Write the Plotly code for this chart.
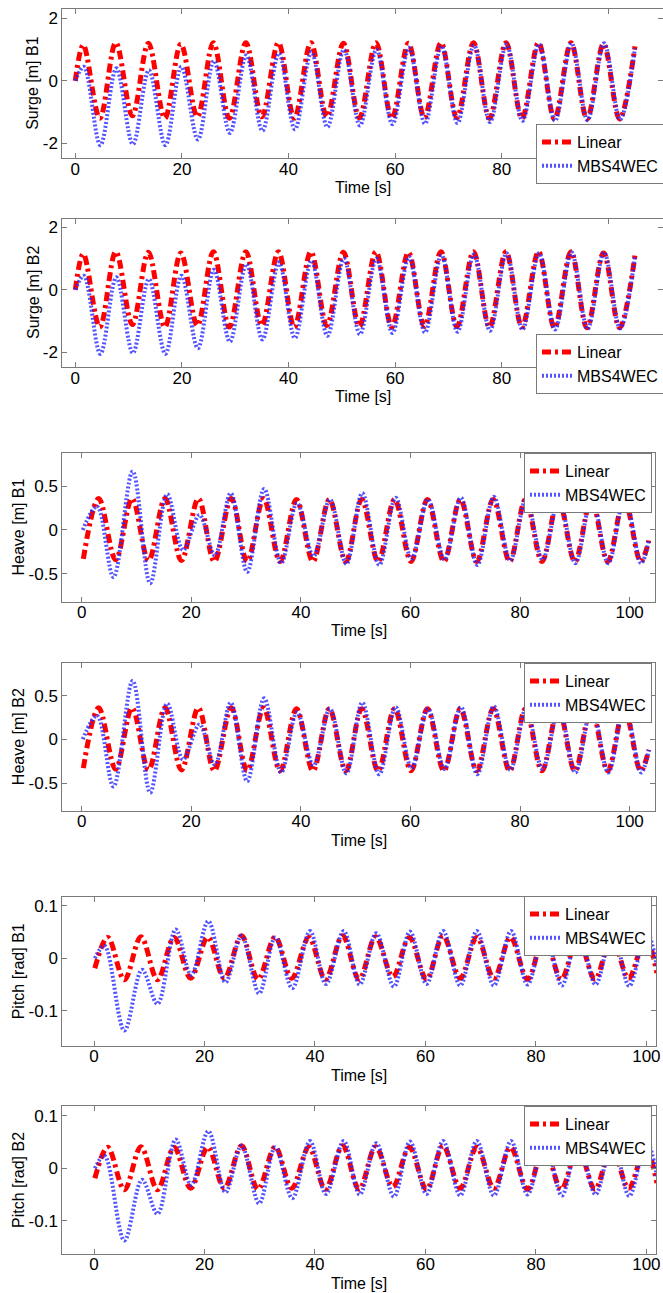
import plotly.graph_objects as go

# ---------------- data (extrema + start/end) ----------------
# Surge, Linear (same for B1 and B2)
SURGE_LIN_T = [0, 1.5, 4.6, 7.6, 10.7, 13.7, 16.8, 19.8, 22.9, 25.9, 28.9, 32.0, 35.0, 38.1, 41.1,
               44.2, 47.2, 50.3, 53.3, 56.4, 59.4, 62.5, 65.5, 68.6, 71.6, 74.7, 77.7, 80.8, 83.8,
               86.9, 89.9, 93.0, 96.0, 99.1, 102.1, 105.0]
SURGE_LIN_Y = [0, 1.15, -1.2, 1.22, -1.12, 1.2, -1.2, 1.18, -1.15, 1.22, -1.2, 1.22, -1.15, 1.22, -1.2,
               1.22, -1.15, 1.2, -1.18, 1.22, -1.2, 1.2, -1.18, 1.22, -1.18, 1.22, -1.2, 1.22, -1.2,
               1.22, -1.22, 1.22, -1.22, 1.18, -1.22, 1.1]
# Surge, MBS4WEC
SURGE_MBS_T = [0, 1.6, 4.7, 7.7, 10.8, 13.8, 16.9, 19.9, 23.0, 26.0, 29.0, 32.1, 35.1, 38.2, 41.2,
               44.3, 47.3, 50.4, 53.4, 56.5, 59.5, 62.6, 65.6, 68.7, 71.7, 74.8, 77.8, 80.9, 83.9,
               87.0, 90.0, 93.1, 96.1, 99.2, 102.2, 105.0]
SURGE_MBS_Y = [0, 0.45, -2.06, 0.40, -2.03, 0.34, -2.06, 0.45, -1.88, 0.64, -1.67, 0.82, -1.6, 0.88, -1.55,
               0.93, -1.48, 1.0, -1.43, 1.0, -1.39, 1.06, -1.37, 1.11, -1.35, 1.14, -1.32, 1.17, -1.28,
               1.17, -1.28, 1.2, -1.26, 1.2, -1.24, 1.04]

# Heave, Linear
HEAVE_LIN_T = [0.3, 3.1, 6.2, 9.2, 12.2, 15.2, 18.2, 21.3, 24.2, 27.3, 30.2, 33.2, 36.2, 39.2, 42.2,
               45.2, 48.2, 51.1, 54.1, 57.1, 60.1, 63.1, 66.1, 69.1, 72.1, 75.1, 78.1, 81.0, 84.0,
               87.0, 90.0, 93.0, 96.0, 99.0, 102.0, 103.5]
HEAVE_LIN_Y = [-0.33, 0.36, -0.34, 0.36, -0.35, 0.36, -0.35, 0.36, -0.36, 0.36, -0.36, 0.36, -0.36, 0.35, -0.36,
               0.35, -0.36, 0.35, -0.36, 0.35, -0.36, 0.35, -0.36, 0.35, -0.36, 0.35, -0.36, 0.35, -0.36,
               0.35, -0.36, 0.35, -0.36, 0.35, -0.36, -0.12]
# Heave, MBS4WEC
HEAVE_MBS_T = [0.2, 2.8, 5.8, 9.3, 12.5, 15.6, 18.5, 21.5, 24.3, 27.2, 30.2, 33.3, 36.4, 39.3, 42.3,
               45.3, 48.3, 51.2, 54.3, 57.3, 60.2, 63.2, 66.2, 69.2, 72.2, 75.2, 78.2, 81.1, 84.1,
               87.1, 90.1, 93.1, 96.1, 99.1, 102.1, 103.5]
HEAVE_MBS_Y = [0.0, 0.27, -0.54, 0.67, -0.61, 0.41, -0.23, 0.17, -0.29, 0.42, -0.48, 0.47, -0.38, 0.31, -0.30,
               0.35, -0.39, 0.42, -0.40, 0.37, -0.33, 0.35, -0.34, 0.37, -0.40, 0.38, -0.35, 0.35, -0.34,
               0.35, -0.38, 0.37, -0.38, 0.37, -0.38, -0.12]

# Pitch, Linear
PITCH_LIN_T = [0.15, 2.5, 5.5, 8.5, 11.5, 14.5, 17.5, 20.6, 23.6, 26.7, 29.7, 32.8, 35.8, 38.9, 41.9,
               45.0, 48.0, 51.0, 54.1, 57.1, 60.2, 63.2, 66.3, 69.3, 72.4, 75.4, 78.5, 81.5, 84.6,
               87.6, 90.7, 93.7, 96.8, 99.8, 101.9]
PITCH_LIN_Y = [-0.019, 0.040, -0.041, 0.041, -0.041, 0.040, -0.038, 0.040, -0.038, 0.043, -0.040, 0.041, -0.038,
               0.040, -0.040, 0.043, -0.040, 0.041, -0.035, 0.040, -0.040, 0.043, -0.038, 0.040, -0.038,
               0.040, -0.040, 0.040, -0.040, 0.040, -0.040, 0.040, -0.038, 0.040, -0.028]
# Pitch, MBS4WEC
PITCH_MBS_T = [0.15, 1.9, 5.5, 8.7, 11.5, 14.8, 17.6, 20.7, 23.8, 26.7, 29.9, 32.8, 35.9, 39.1, 42.0,
               45.2, 48.1, 51.1, 54.3, 57.2, 60.2, 63.2, 66.3, 69.3, 72.4, 75.5, 78.5, 81.6, 84.7,
               87.7, 90.8, 93.9, 96.9, 100.0, 101.9]
PITCH_MBS_Y = [0.0, 0.024, -0.138, -0.022, -0.087, 0.055, -0.032, 0.071, -0.046, 0.043, -0.067, 0.040, -0.057,
               0.052, -0.049, 0.052, -0.050, 0.048, -0.054, 0.051, -0.049, 0.052, -0.052, 0.052, -0.052,
               0.052, -0.050, 0.052, -0.052, 0.052, -0.050, 0.052, -0.053, 0.052, -0.015]

SERIES_NAMES = ["Linear", "MBS4WEC"]
Y_TITLES = ["Surge [m] B1", "Surge [m] B2", "Heave [m] B1", "Heave [m] B2",
            "Pitch [rad] B1", "Pitch [rad] B2"]
X_TITLE = "Time [s]"
X_TICKS = [0, 20, 40, 60, 80, 100]
SURGE_TICKS = [-2, 0, 2]
HEAVE_TICKS = [-0.5, 0, 0.5]
PITCH_TICKS = [-0.1, 0, 0.1]

# B2 responses coincide with B1 in the picture
panels = [
    (SURGE_LIN_T, SURGE_LIN_Y, SURGE_MBS_T, SURGE_MBS_Y, SURGE_TICKS),
    (SURGE_LIN_T, SURGE_LIN_Y, SURGE_MBS_T, SURGE_MBS_Y, SURGE_TICKS),
    (HEAVE_LIN_T, HEAVE_LIN_Y, HEAVE_MBS_T, HEAVE_MBS_Y, HEAVE_TICKS),
    (HEAVE_LIN_T, HEAVE_LIN_Y, HEAVE_MBS_T, HEAVE_MBS_Y, HEAVE_TICKS),
    (PITCH_LIN_T, PITCH_LIN_Y, PITCH_MBS_T, PITCH_MBS_Y, PITCH_TICKS),
    (PITCH_LIN_T, PITCH_LIN_Y, PITCH_MBS_T, PITCH_MBS_Y, PITCH_TICKS),
]

# ---------------- layout geometry (pixels) ----------------
W, H = 663, 1293
boxes = [  # left, right, top, bottom
    (62.3, 663.0, 9.3, 158.3),
    (62.3, 663.0, 218.7, 367.3),
    (62.3, 655.4, 453.3, 601.7),
    (62.3, 655.4, 663.3, 811.0),
    (62.3, 656.3, 896.7, 1046.0),
    (62.3, 656.3, 1106.0, 1254.0),
]
xranges = [[-2.44, 110.26], [-2.44, 110.26], [-3.54, 104.7], [-3.54, 104.7],
           [-5.74, 101.8], [-5.74, 101.8]]
yranges = [[-2.48, 2.29], [-2.49, 2.28], [-0.82, 0.877], [-0.82, 0.87],
           [-0.1675, 0.1177], [-0.1637, 0.119]]
legend_pos = [(536, 124), (536, 334), (524, 453), (524, 663), (524, 896), (524, 1106)]
ylabel_x = [33, 33, 18, 18, 18, 18]

FONT = "Liberation Sans, Arial, Helvetica, sans-serif"
AXCOL = "#7a7a7a"

fig = go.Figure()
layout = dict(width=W, height=H, margin=dict(l=0, r=0, t=0, b=0, autoexpand=False),
              paper_bgcolor="white", plot_bgcolor="white", showlegend=True,
              font=dict(family=FONT, size=16, color="black"), annotations=[])


def fmt(v):
    return "%g" % v


for i, (lt, ly, mt, my, yt) in enumerate(panels):
    n = i + 1
    sx = "" if n == 1 else str(n)
    lg = "legend" if n == 1 else "legend%d" % n
    fig.add_trace(go.Scatter(x=lt, y=ly, name=SERIES_NAMES[0], mode="lines",
                             line=dict(color="#ff0000", width=5, dash="9px,4px,3px,4px",
                                       shape="spline", smoothing=1.0),
                             xaxis="x" + sx, yaxis="y" + sx, legend=lg))
    fig.add_trace(go.Scatter(x=mt, y=my, name=SERIES_NAMES[1], mode="lines",
                             line=dict(color="rgba(40,40,255,0.8)", width=4, dash="2px,2px",
                                       shape="spline", smoothing=1.0),
                             xaxis="x" + sx, yaxis="y" + sx, legend=lg))
    l, r, t, b = boxes[i]
    common = dict(showline=True, linecolor=AXCOL, linewidth=1, mirror="ticks",
                  ticks="inside", ticklen=5, tickcolor=AXCOL, showgrid=False,
                  zeroline=False, tickfont=dict(family=FONT, size=17, color="black"))
    layout["xaxis" + sx] = dict(domain=[l / W, min(r / W, 1.0)], range=xranges[i],
                                anchor="y" + sx, tickvals=X_TICKS, ticklabelstandoff=-5,
                                ticktext=[fmt(v) for v in X_TICKS], **common)
    layout["yaxis" + sx] = dict(domain=[1 - b / H, 1 - t / H], range=yranges[i],
                                anchor="x" + sx, tickvals=yt,
                                ticktext=[fmt(v) for v in yt], **common)
    lx, ly_ = legend_pos[i]
    layout[lg] = dict(x=lx / W, y=1 - ly_ / H, xanchor="left", yanchor="top",
                      bgcolor="white", bordercolor=AXCOL, borderwidth=1,
                      font=dict(family=FONT, size=16, color="black"),
                      itemwidth=30, tracegroupgap=0)
    layout["annotations"].append(dict(text=Y_TITLES[i], textangle=-90, showarrow=False,
                                      x=ylabel_x[i] / W, y=1 - (t + b) / 2 / H,
                                      xref="paper", yref="paper", xanchor="center",
                                      yanchor="middle", font=dict(family=FONT, size=16)))
    layout["annotations"].append(dict(text=X_TITLE, showarrow=False,
                                      x=(l + min(r, W)) / 2 / W, y=1 - (b + 29) / H,
                                      xref="paper", yref="paper", xanchor="center",
                                      yanchor="middle", font=dict(family=FONT, size=16)))

fig.update_layout(**layout)
fig.write_html("out.html", config={"displayModeBar": False},
               post_script="document.body.style.margin='0';document.body.style.overflow='hidden';")
